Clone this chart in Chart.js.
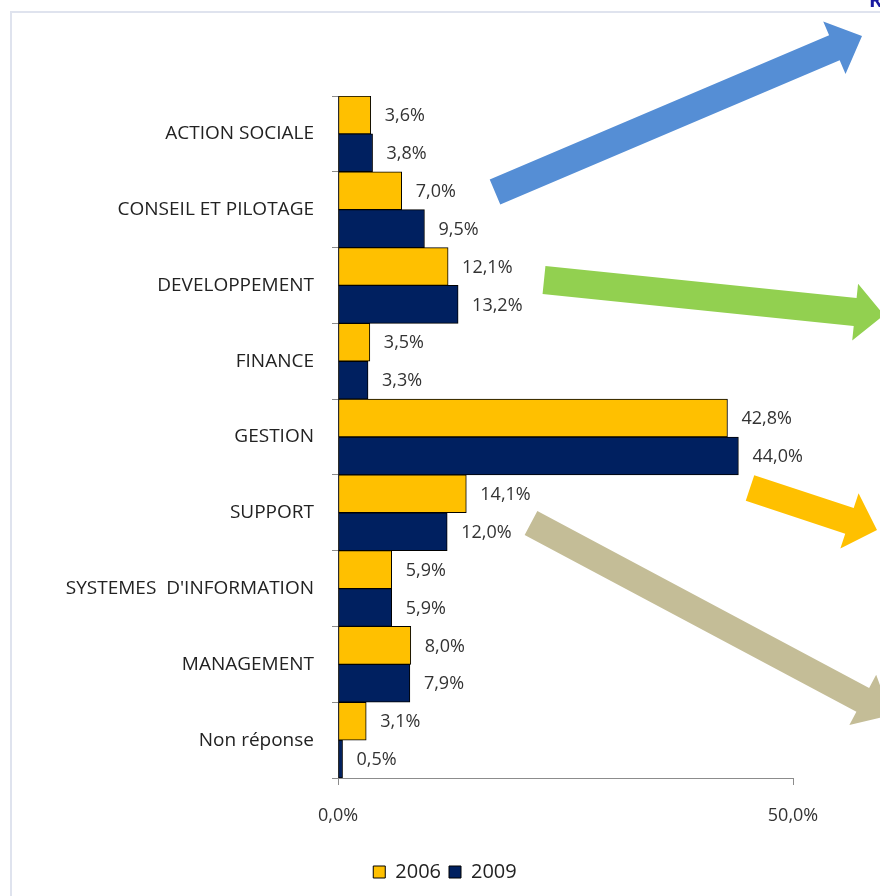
<!DOCTYPE html>
<html>
<head>
<meta charset="utf-8">
<script src="https://cdn.jsdelivr.net/npm/chart.js@4.4.0/dist/chart.umd.min.js"></script>
<style>
  html, body { margin: 0; padding: 0; background: #fff; overflow: hidden; }
  #wrap { position: relative; width: 880px; height: 896px; overflow: hidden; }
  #frame { position: absolute; left: 10px; top: 11px; width: 900px; height: 900px;
           border-left: 2px solid #dfe3ee; border-top: 2px solid #dfe3ee; }
  canvas { position: absolute; left: 0; top: 0; }
</style>
</head>
<body>
<div id="wrap">
  <div id="frame"></div>
  <canvas id="chart" width="880" height="896"></canvas>
</div>
<script>
// ---- Données ----
const categories = ['ACTION SOCIALE', 'CONSEIL ET PILOTAGE', 'DEVELOPPEMENT', 'FINANCE', 'GESTION',
                    'SUPPORT', 'SYSTEMES  D\'INFORMATION', 'MANAGEMENT', 'Non réponse'];
const series = ['2006', '2009'];
const values2006 = [3.6, 7.0, 12.1, 3.5, 42.8, 14.1, 5.9, 8.0, 3.1];
const values2009 = [3.8, 9.5, 13.2, 3.3, 44.0, 12.0, 5.9, 7.9, 0.5];
const xTicks = [0, 50];

// ---- Couleurs ----
const YELLOW = '#ffc000';
const NAVY   = '#002060';
const AXIS   = '#8c8c8c';
const FONT   = 'Open Sans';

const fmt = v => Number(v).toFixed(1).replace('.', ',') + '%';

// flèches décoratives (pointe, queue, largeurs)
const arrows = [
    { color: '#558ed5', tail: [495, 192], tip: [862, 36],  w: 27, hw: 57, hl: 30 },
    { color: '#92d050', tail: [544, 280], tip: [884, 315], w: 28, hw: 57, hl: 29 },
    { color: '#ffc000', tail: [750, 488], tip: [877, 530], w: 27, hw: 58, hl: 29 },
    { color: '#c4bd97', tail: [531, 523], tip: [891, 715], w: 27, hw: 57, hl: 32 }
];

const valueLabels = {
    id: 'valueLabels',
    afterDatasetsDraw(chart) {
        const ctx = chart.ctx;
        ctx.save();
        ctx.font = `18px "${FONT}"`;
        ctx.fillStyle = '#333';
        ctx.textBaseline = 'middle';
        chart.data.datasets.forEach((ds, i) => {
            chart.getDatasetMeta(i).data.forEach((bar, j) => {
                ctx.fillText(fmt(ds.data[j]), bar.x + 14, bar.y + 1);
            });
        });
        ctx.restore();
    }
};

// la légende est centrée sur tout le cadre, pas seulement sur le graphique
const legendShift = {
    id: 'legendShift',
    afterLayout(chart) {
        chart.legend.left = 10;
        chart.legend.right = 880;
    }
};

const decorations = {
    id: 'decorations',
    afterDraw(chart) {
        const ctx = chart.ctx;
        ctx.save();
        arrows.forEach(a => {
            const dx = a.tip[0] - a.tail[0], dy = a.tip[1] - a.tail[1];
            const len = Math.hypot(dx, dy);
            const ux = dx / len, uy = dy / len, nx = -uy, ny = ux;
            const bx = a.tip[0] - ux * a.hl, by = a.tip[1] - uy * a.hl;
            ctx.beginPath();
            ctx.moveTo(a.tail[0] + nx * a.w / 2, a.tail[1] + ny * a.w / 2);
            ctx.lineTo(bx + nx * a.w / 2, by + ny * a.w / 2);
            ctx.lineTo(bx + nx * a.hw / 2, by + ny * a.hw / 2);
            ctx.lineTo(a.tip[0], a.tip[1]);
            ctx.lineTo(bx - nx * a.hw / 2, by - ny * a.hw / 2);
            ctx.lineTo(bx - nx * a.w / 2, by - ny * a.w / 2);
            ctx.lineTo(a.tail[0] - nx * a.w / 2, a.tail[1] - ny * a.w / 2);
            ctx.closePath();
            ctx.fillStyle = a.color;
            ctx.fill();
        });
        // bout du titre coupé en haut à droite
        ctx.font = `bold 20px "${FONT}"`;
        ctx.fillStyle = '#1a1aa0';
        ctx.textBaseline = 'alphabetic';
        ctx.fillText('R', 869, 7);
        ctx.restore();
    }
};

new Chart(document.getElementById('chart'), {
    type: 'bar',
    data: {
        labels: categories,
        datasets: [{
            label: series[0],
            data: values2006,
            backgroundColor: YELLOW,
            borderColor: '#000',
            borderWidth: 1,
            borderSkipped: false,
            categoryPercentage: 1.0,
            barPercentage: 1.0
        }, {
            label: series[1],
            data: values2009,
            backgroundColor: NAVY,
            borderColor: '#000',
            borderWidth: 1,
            borderSkipped: false,
            categoryPercentage: 1.0,
            barPercentage: 1.0
        }]
    },
    options: {
        indexAxis: 'y',
        responsive: false,
        devicePixelRatio: 1,
        animation: false,
        layout: { padding: { left: 0, right: 87, top: 96, bottom: 4 } },
        plugins: {
            legend: {
                position: 'bottom',
                labels: {
                    boxWidth: 12,
                    boxHeight: 12,
                    padding: 8,
                    color: '#222',
                    font: { family: FONT, size: 20 }
                }
            },
            tooltip: { enabled: false }
        },
        scales: {
            x: {
                min: xTicks[0],
                max: xTicks[xTicks.length - 1],
                afterBuildTicks: s => { s.ticks = xTicks.map(v => ({ value: v })); },
                afterFit: s => { s.height = 76; },
                ticks: {
                    callback: v => fmt(v),
                    color: '#333',
                    padding: 20,
                    font: { family: FONT, size: 18 }
                },
                grid: { drawOnChartArea: false, tickLength: 7, color: AXIS },
                border: { color: AXIS }
            },
            y: {
                afterFit: s => { s.width = 338; },
                ticks: {
                    color: '#222',
                    padding: 18,
                    font: { family: FONT, size: 19 }
                },
                grid: { drawOnChartArea: false, tickLength: 6, color: AXIS, offset: true },
                border: { color: AXIS }
            }
        }
    },
    plugins: [valueLabels, legendShift, decorations]
});
</script>
</body>
</html>
